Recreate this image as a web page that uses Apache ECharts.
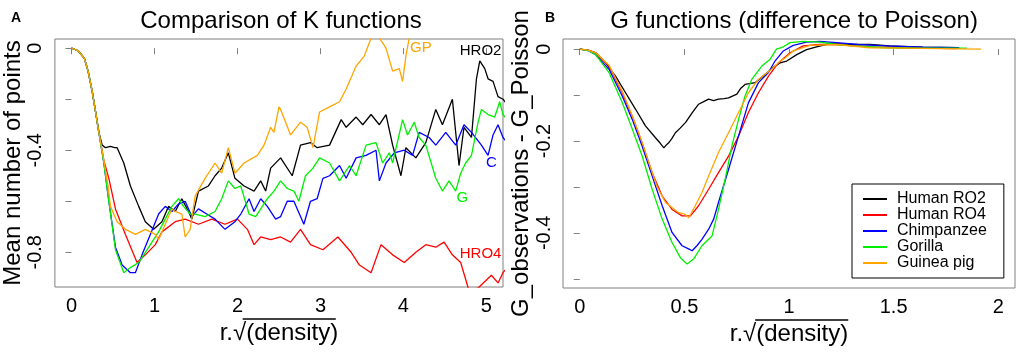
<!DOCTYPE html>
<html>
<head>
<meta charset="utf-8">
<script src="https://cdn.jsdelivr.net/npm/echarts@6/dist/echarts.min.js"></script>
<style>
  html, body { margin: 0; padding: 0; background: #fff; }
  #main { width: 1021px; height: 352px; }
</style>
</head>
<body>
<div id="main"></div>
<script>
// K functions (left panel), [r.sqrt(density), mean number of points]
const kHRO2 = [[0,0],[0.08,-0.01],[0.155,-0.04],[0.2,-0.09],[0.25,-0.17],[0.29,-0.25],[0.33,-0.33],[0.37,-0.38],[0.41,-0.39],[0.47,-0.385],[0.52,-0.39],[0.55,-0.39],[0.63,-0.45],[0.71,-0.54],[0.81,-0.62],[0.89,-0.68],[0.99,-0.71],[1.09,-0.68],[1.17,-0.62],[1.25,-0.64],[1.33,-0.59],[1.41,-0.64],[1.45,-0.67],[1.53,-0.56],[1.65,-0.54],[1.73,-0.5],[1.81,-0.47],[1.89,-0.41],[1.97,-0.51],[2.08,-0.54],[2.2,-0.56],[2.28,-0.52],[2.34,-0.56],[2.4,-0.47],[2.52,-0.43],[2.66,-0.5],[2.76,-0.38],[2.88,-0.37],[2.96,-0.39],[3.11,-0.38],[3.25,-0.28],[3.31,-0.31],[3.43,-0.27],[3.51,-0.3],[3.61,-0.26],[3.71,-0.3],[3.79,-0.26],[3.87,-0.38],[3.97,-0.5],[4.03,-0.39],[4.15,-0.43],[4.27,-0.37],[4.39,-0.24],[4.47,-0.3],[4.59,-0.2],[4.67,-0.46],[4.73,-0.31],[4.82,-0.35],[4.88,-0.12],[4.92,-0.05],[4.98,-0.08],[5.02,-0.12],[5.08,-0.13],[5.14,-0.19],[5.2,-0.2],[5.25,-0.22]];
const kHRO4 = [[0,0],[0.08,-0.01],[0.155,-0.04],[0.2,-0.09],[0.25,-0.17],[0.29,-0.25],[0.33,-0.33],[0.39,-0.44],[0.45,-0.51],[0.53,-0.63],[0.65,-0.73],[0.79,-0.84],[0.89,-0.81],[1.01,-0.77],[1.09,-0.72],[1.25,-0.68],[1.37,-0.67],[1.53,-0.69],[1.69,-0.67],[1.85,-0.69],[2,-0.67],[2.12,-0.71],[2.2,-0.77],[2.28,-0.74],[2.4,-0.75],[2.52,-0.74],[2.64,-0.76],[2.76,-0.71],[2.88,-0.77],[3.03,-0.79],[3.21,-0.74],[3.37,-0.8],[3.47,-0.85],[3.61,-0.88],[3.73,-0.77],[3.87,-0.81],[4.01,-0.84],[4.15,-0.8],[4.27,-0.77],[4.39,-0.78],[4.49,-0.76],[4.59,-0.81],[4.69,-0.84],[4.79,-0.95],[4.9,-0.94],[5.06,-0.89],[5.14,-0.92],[5.2,-0.88],[5.25,-0.86]];
const kChimp = [[0,0],[0.08,-0.01],[0.155,-0.04],[0.2,-0.09],[0.25,-0.17],[0.29,-0.25],[0.33,-0.33],[0.39,-0.45],[0.45,-0.6],[0.53,-0.78],[0.61,-0.85],[0.71,-0.88],[0.77,-0.88],[0.85,-0.81],[0.95,-0.73],[1.05,-0.65],[1.13,-0.62],[1.21,-0.64],[1.29,-0.61],[1.37,-0.6],[1.45,-0.66],[1.53,-0.63],[1.63,-0.65],[1.73,-0.67],[1.85,-0.71],[1.97,-0.68],[2.04,-0.65],[2.14,-0.59],[2.2,-0.64],[2.28,-0.59],[2.36,-0.62],[2.46,-0.67],[2.52,-0.66],[2.6,-0.6],[2.68,-0.6],[2.76,-0.66],[2.8,-0.69],[2.88,-0.6],[2.96,-0.59],[3.03,-0.51],[3.11,-0.5],[3.23,-0.46],[3.31,-0.51],[3.43,-0.43],[3.55,-0.42],[3.67,-0.4],[3.71,-0.52],[3.79,-0.45],[3.89,-0.41],[4.01,-0.4],[4.11,-0.42],[4.19,-0.33],[4.31,-0.35],[4.39,-0.38],[4.51,-0.33],[4.63,-0.38],[4.73,-0.3],[4.82,-0.33],[4.94,-0.38],[5.02,-0.42],[5.08,-0.34],[5.14,-0.3],[5.2,-0.35],[5.25,-0.37]];
const kGorilla = [[0,0],[0.08,-0.01],[0.155,-0.04],[0.2,-0.09],[0.25,-0.17],[0.29,-0.25],[0.33,-0.33],[0.39,-0.45],[0.45,-0.6],[0.53,-0.79],[0.63,-0.88],[0.71,-0.86],[0.81,-0.84],[0.89,-0.8],[0.97,-0.76],[1.05,-0.72],[1.13,-0.67],[1.21,-0.62],[1.29,-0.59],[1.35,-0.62],[1.43,-0.65],[1.49,-0.65],[1.61,-0.66],[1.73,-0.64],[1.81,-0.59],[1.89,-0.52],[1.97,-0.55],[2.04,-0.54],[2.14,-0.65],[2.22,-0.66],[2.28,-0.63],[2.36,-0.59],[2.44,-0.56],[2.52,-0.52],[2.6,-0.55],[2.68,-0.56],[2.74,-0.6],[2.82,-0.5],[2.91,-0.47],[2.99,-0.43],[3.11,-0.45],[3.23,-0.52],[3.35,-0.46],[3.43,-0.5],[3.55,-0.38],[3.67,-0.37],[3.75,-0.45],[3.83,-0.41],[3.87,-0.45],[3.99,-0.28],[4.05,-0.34],[4.13,-0.29],[4.19,-0.35],[4.27,-0.38],[4.39,-0.51],[4.47,-0.56],[4.55,-0.52],[4.63,-0.56],[4.69,-0.49],[4.75,-0.45],[4.82,-0.42],[4.9,-0.29],[4.94,-0.24],[5.02,-0.26],[5.1,-0.27],[5.16,-0.21],[5.2,-0.26],[5.25,-0.28]];
const kGuinea = [[0,0],[0.08,-0.01],[0.155,-0.04],[0.2,-0.09],[0.25,-0.17],[0.29,-0.25],[0.33,-0.33],[0.39,-0.44],[0.44,-0.54],[0.47,-0.62],[0.55,-0.68],[0.65,-0.71],[0.77,-0.73],[0.89,-0.71],[1.01,-0.73],[1.05,-0.75],[1.13,-0.69],[1.21,-0.63],[1.25,-0.64],[1.33,-0.65],[1.37,-0.74],[1.43,-0.71],[1.49,-0.58],[1.61,-0.51],[1.73,-0.45],[1.81,-0.49],[1.89,-0.39],[1.97,-0.49],[2.08,-0.45],[2.24,-0.42],[2.32,-0.38],[2.4,-0.31],[2.44,-0.33],[2.5,-0.23],[2.52,-0.24],[2.64,-0.34],[2.76,-0.29],[2.84,-0.31],[2.91,-0.39],[2.99,-0.25],[3.11,-0.23],[3.23,-0.21],[3.31,-0.16],[3.43,-0.07],[3.53,-0.03],[3.61,0.04],[3.66,0.06],[3.71,0.04],[3.79,0],[3.87,-0.09],[3.95,-0.08],[3.99,-0.13],[4.03,-0.03],[4.07,0.04],[4.1,0.08]];

// G functions minus Poisson (right panel)
const gRO2 = [[0,0],[0.04,-0.002],[0.076,-0.008],[0.124,-0.03],[0.171,-0.059],[0.219,-0.095],[0.267,-0.131],[0.314,-0.167],[0.362,-0.193],[0.385,-0.205],[0.402,-0.215],[0.415,-0.208],[0.425,-0.204],[0.44,-0.195],[0.457,-0.182],[0.48,-0.172],[0.505,-0.16],[0.537,-0.139],[0.568,-0.12],[0.59,-0.115],[0.616,-0.109],[0.64,-0.112],[0.663,-0.109],[0.69,-0.108],[0.711,-0.106],[0.751,-0.098],[0.77,-0.085],[0.79,-0.077],[0.838,-0.073],[0.886,-0.055],[0.933,-0.037],[0.957,-0.03],[0.989,-0.026],[1.037,-0.012],[1.084,-0.001],[1.132,0.005],[1.195,0.012],[1.306,0.01],[1.386,0.01],[1.481,0.007],[1.64,0.004],[1.81,0.003]];
const gRO4 = [[0,0],[0.04,-0.002],[0.076,-0.008],[0.14,-0.037],[0.203,-0.095],[0.251,-0.146],[0.298,-0.204],[0.346,-0.269],[0.394,-0.32],[0.441,-0.349],[0.489,-0.363],[0.529,-0.363],[0.568,-0.341],[0.616,-0.305],[0.663,-0.269],[0.711,-0.233],[0.759,-0.189],[0.806,-0.138],[0.854,-0.095],[0.902,-0.059],[0.949,-0.03],[1.005,-0.008],[1.068,0.007],[1.148,0.01],[1.227,0.01],[1.386,0.005],[1.544,0.003],[1.8,0.001]];
const gChimp = [[0,0],[0.04,-0.003],[0.076,-0.012],[0.14,-0.044],[0.203,-0.102],[0.251,-0.153],[0.298,-0.211],[0.346,-0.276],[0.394,-0.341],[0.441,-0.399],[0.489,-0.428],[0.52,-0.435],[0.537,-0.439],[0.56,-0.428],[0.584,-0.414],[0.616,-0.392],[0.64,-0.37],[0.663,-0.334],[0.711,-0.262],[0.759,-0.189],[0.806,-0.117],[0.854,-0.073],[0.902,-0.051],[0.933,-0.026],[0.973,-0.004],[1.02,0.008],[1.084,0.015],[1.148,0.017],[1.227,0.014],[1.33,0.01],[1.465,0.007],[1.64,0.004],[1.814,0.003]];
const gGorilla = [[0,0],[0.04,-0.003],[0.076,-0.012],[0.14,-0.051],[0.203,-0.116],[0.251,-0.174],[0.298,-0.232],[0.346,-0.305],[0.394,-0.37],[0.441,-0.421],[0.481,-0.454],[0.513,-0.468],[0.544,-0.457],[0.584,-0.428],[0.632,-0.407],[0.663,-0.349],[0.695,-0.283],[0.727,-0.211],[0.759,-0.153],[0.79,-0.102],[0.822,-0.066],[0.87,-0.037],[0.91,-0.022],[0.94,0],[0.973,0.005],[1.005,0.014],[1.068,0.017],[1.148,0.015],[1.227,0.01],[1.306,0.007],[1.465,0.003],[1.6,0.002],[1.85,0.002]];
const gGuinea = [[0,0],[0.04,-0.002],[0.076,-0.008],[0.14,-0.035],[0.203,-0.092],[0.251,-0.145],[0.298,-0.203],[0.33,-0.247],[0.37,-0.3],[0.41,-0.334],[0.473,-0.356],[0.505,-0.36],[0.521,-0.367],[0.552,-0.341],[0.584,-0.312],[0.616,-0.276],[0.663,-0.225],[0.711,-0.182],[0.759,-0.138],[0.806,-0.095],[0.854,-0.066],[0.917,-0.044],[0.96,-0.025],[0.98,-0.02],[1.02,-0.004],[1.1,0.008],[1.227,0.01],[1.386,0.003],[1.544,0.002],[1.918,0]];

const names = ['Human RO2', 'Human RO4', 'Chimpanzee', 'Gorilla', 'Guinea pig']
const colors = ['#000000', '#ff0000', '#0000ff', '#00ee00', '#ffa500']
const kLabels = ['HRO2', 'HRO4', 'C', 'G', 'GP']
const kLabelPos = [[4.93, -0.01], [4.93, -0.805], [5.06, -0.45], [4.71, -0.585], [4.21, 0]]
const leftTicks = [0, 1, 2, 3, 4, 5]
const rightTicks = [0, 0.5, 1, 1.5, 2]

const font = 'Liberation Sans, Arial, sans-serif'
const axisGray = '#808080'
const xName = 'r.√(density)'
const nameSize = 24
const nameGapX = 30

const chart = echarts.init(document.getElementById('main'))

function xAxisFor (grid, min, max, ticks) {
  return {
    type: 'value', gridIndex: grid, min: min, max: max,
    name: xName, nameLocation: 'middle', nameGap: nameGapX,
    nameTextStyle: { fontSize: nameSize, color: '#000', fontFamily: font },
    splitLine: { show: false },
    axisLine: { show: false },
    axisTick: { show: true, customValues: ticks, length: 6, lineStyle: { color: axisGray } },
    axisLabel: { customValues: ticks, fontSize: 20, color: '#000', fontFamily: font, margin: 9 }
  }
}
function yAxisFor (grid, min, max, ticks, labels, name, gap) {
  return {
    type: 'value', gridIndex: grid, min: min, max: max,
    name: name, nameLocation: 'middle', nameGap: gap,
    nameTextStyle: { fontSize: nameSize, color: '#000', fontFamily: font },
    splitLine: { show: false },
    axisLine: { show: false },
    axisTick: { show: true, customValues: ticks, length: 6, lineStyle: { color: axisGray } },
    axisLabel: { customValues: labels, rotate: 90, fontSize: 20, color: '#000', fontFamily: font, margin: 9 }
  }
}

const kData = [kHRO2, kHRO4, kChimp, kGorilla, kGuinea]
const gData = [gRO2, gRO4, gChimp, gGorilla, gGuinea]

const series = []
kData.forEach((d, i) => {
  series.push({
    name: 'K ' + names[i], type: 'line', xAxisIndex: 0, yAxisIndex: 0,
    data: d, showSymbol: false, symbol: 'none', animation: false,
    lineStyle: { color: colors[i], width: 1.3 }, itemStyle: { color: colors[i] },
    markPoint: {
      symbol: 'circle', symbolSize: 1, itemStyle: { color: 'rgba(0,0,0,0)' },
      label: { show: true, position: 'inside', color: colors[i], fontSize: 15, fontFamily: font, formatter: kLabels[i] },
      data: [{ coord: kLabelPos[i] }]
    }
  })
})
gData.forEach((d, i) => {
  series.push({
    name: names[i], type: 'line', xAxisIndex: 1, yAxisIndex: 1,
    data: d, showSymbol: false, symbol: 'none', animation: false,
    lineStyle: { color: colors[i], width: 1.3 }, itemStyle: { color: colors[i] }
  })
})

const grids = [
  { left: 50, top: 39, width: 453, height: 248 },
  { left: 563, top: 39, width: 452, height: 249 }
]

// overbar of the square root in the x axis titles
const ctx = document.createElement('canvas').getContext('2d')
ctx.font = nameSize + 'px ' + font
const fullW = ctx.measureText(xName).width
const headW = ctx.measureText('r.').width + ctx.measureText('√').width * 0.92
const overbars = grids.map(g => {
  const cx = g.left + g.width / 2
  const x0 = cx - fullW / 2 + headW
  const x1 = cx + fullW / 2
  const y = g.top + g.height + nameGapX + 2
  return { type: 'line', shape: { x1: x0, y1: y, x2: x1, y2: y }, style: { stroke: '#000', lineWidth: 1.6 }, silent: true }
})

const option = {
  animation: false,
  backgroundColor: '#fff',
  textStyle: { fontFamily: font },
  title: [
    { text: 'Comparison of K functions', left: 276, top: 4, textAlign: 'center', textStyle: { fontSize: 24, fontWeight: 'normal', color: '#000', fontFamily: font } },
    { text: 'G functions (difference to Poisson)', left: 789, top: 4, textAlign: 'center', textStyle: { fontSize: 24, fontWeight: 'normal', color: '#000', fontFamily: font } },
    { text: 'A', left: 6, top: 6, textStyle: { fontSize: 14, fontWeight: 'bold', color: '#000', fontFamily: font } },
    { text: 'B', left: 540, top: 6, textStyle: { fontSize: 14, fontWeight: 'bold', color: '#000', fontFamily: font } }
  ],
  grid: grids.map(g => Object.assign({ show: true, borderColor: axisGray, borderWidth: 1, backgroundColor: 'transparent' }, g)),
  xAxis: [
    xAxisFor(0, -0.2, 5.2, leftTicks),
    xAxisFor(1, -0.08, 2.08, rightTicks)
  ],
  yAxis: [
    yAxisFor(0, -0.936, 0.036, [0, -0.2, -0.4, -0.6, -0.8], [0, -0.4, -0.8], 'Mean number of points', 26),
    yAxisFor(1, -0.52, 0.022, [0, -0.1, -0.2, -0.3, -0.4, -0.5], [0, -0.2, -0.4], 'G_observations - G_Poisson', 26)
  ],
  legend: {
    data: names, orient: 'vertical', left: 852, top: 184,
    icon: 'rect', itemWidth: 24, itemHeight: 2, itemGap: 0,
    padding: [7, 17, 7, 11], borderColor: '#000', borderWidth: 1,
    textStyle: { fontSize: 16, lineHeight: 15, color: '#000', fontFamily: font, padding: [0, 0, 0, 5] }
  },
  graphic: overbars,
  series: series
}

chart.setOption(option)
</script>
</body>
</html>
